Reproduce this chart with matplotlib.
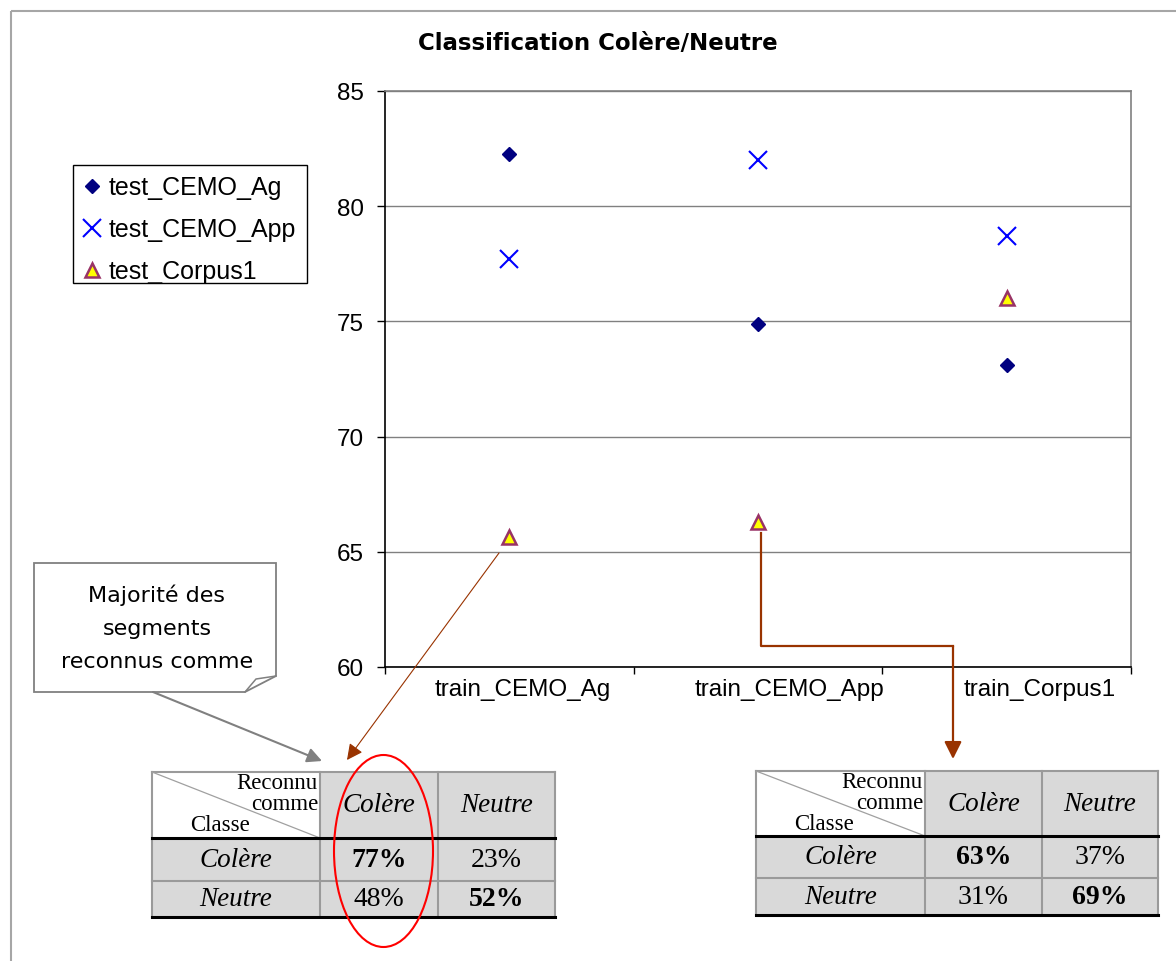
import numpy as np
import matplotlib
matplotlib.use("Agg")
import matplotlib.pyplot as plt
from matplotlib.patches import Rectangle, Polygon, Ellipse, FancyArrowPatch
from matplotlib.transforms import ScaledTranslation

# ---------------- data ----------------
title = "Classification Colère/Neutre"
categories = ["train_CEMO_Ag", "train_CEMO_App", "train_Corpus1"]
series_names = ["test_CEMO_Ag", "test_CEMO_App", "test_Corpus1"]
test_cemo_ag = [82.25, 74.9, 73.1]
test_cemo_app = [77.7, 82.0, 78.7]
test_corpus1 = [65.65, 66.3, 76.0]
y_ticks = [60, 65, 70, 75, 80, 85]
callout_text = "Majorité des\nsegments\nreconnus comme"
class_labels = ["Colère", "Neutre"]
conf_train_ag = [[77, 23], [48, 52]]
conf_train_corpus1 = [[63, 37], [31, 69]]

plt.rcParams['font.family'] = ['Liberation Sans', 'DejaVu Sans']

W, H = 1176, 962
fig = plt.figure(figsize=(W / 100, H / 100), dpi=100)
fig.patch.set_facecolor('white')


def fx(x):
    return x / W


def fy(y):
    return 1 - y / H


# ---------------- main chart ----------------
ax = fig.add_axes([fx(385), fy(668), (1131 - 385) / W, (668 - 92) / H])
x = np.arange(len(categories))
ax.plot(x, test_cemo_ag, ls='none', marker='D', ms=7.5, color='#000080',
        label=series_names[0], zorder=3, clip_on=False)
ax.plot(x, test_cemo_app, ls='none', marker='x', ms=12.5, mew=1.5, color='#0000FF',
        label=series_names[1], zorder=3, clip_on=False)
ax.plot(x, test_corpus1, ls='none', marker='^', ms=9.5, mfc='#FFFF00', mec='#993366',
        mew=1.8, label=series_names[2], zorder=3, clip_on=False)

ax.set_xlim(-0.5, len(categories) - 0.5)
ax.set_ylim(y_ticks[0], y_ticks[-1])
ax.set_yticks(y_ticks)
ax.set_xticks(np.arange(len(categories) + 1) - 0.5)
ax.set_xticklabels([])
ax.set_xticks(x, minor=True)
ax.set_xticklabels(categories, minor=True)
ax.tick_params(axis='x', which='major', length=5, width=1, direction='out', color='black')
ax.tick_params(axis='x', which='minor', length=0, pad=8, labelsize=17.5)
ax.tick_params(axis='y', length=6, width=1, pad=9, labelsize=17.5)
# Excel places the category labels slightly right of the category centres
label_shift_px = [13, 32, 33]
for lab, dx in zip(ax.get_xticklabels(minor=True), label_shift_px):
    lab.set_transform(lab.get_transform() + ScaledTranslation(dx / 100, 0, fig.dpi_scale_trans))
ax.yaxis.grid(True, color='#808080', lw=1)
ax.set_axisbelow(True)
ax.spines['left'].set_color('black')
ax.spines['bottom'].set_color('black')
ax.spines['top'].set_color('#808080')
ax.spines['right'].set_color('#808080')
for s in ax.spines.values():
    s.set_linewidth(1.2)

leg = ax.legend(loc='upper left', bbox_to_anchor=(fx(73), fy(166)),
                bbox_transform=fig.transFigure, borderaxespad=0, frameon=False,
                fontsize=18, handlelength=0.7, handletextpad=0.3,
                labelspacing=0.72, borderpad=0.42)

fig.text(fx(598), fy(44), title, ha='center', va='center', fontsize=16.5,
         fontweight='bold', family='DejaVu Sans')

# ---------------- overlay (annotations, tables) ----------------
ov = fig.add_axes([0, 0, 1, 1], zorder=5)
ov.set_xlim(0, W)
ov.set_ylim(H, 0)
ov.axis('off')
ov.patch.set_alpha(0)

# legend frame
ov.add_patch(Rectangle((73, 166), 307 - 73, 284 - 166, fill=False, ec='black', lw=1, zorder=1))

# outer frame
ov.plot([11, 11], [H + 5, 12], color='#A6A6A6', lw=1.5, solid_capstyle='butt')
ov.plot([11, W + 5], [12, 12], color='#A6A6A6', lw=1.5, solid_capstyle='butt')

# callout box
ov.add_patch(Polygon([(34, 564), (276, 564), (276, 677), (245, 693), (34, 693)],
                     closed=True, fc='white', ec='#808080', lw=1.3, zorder=2))
ov.plot([276, 256, 245], [677, 680, 693], color='#808080', lw=1.1, zorder=3)
ov.text(157, 628, callout_text, ha='center', va='center', fontsize=16,
        family='DejaVu Sans', linespacing=1.82, zorder=3)

# arrows
ov.add_patch(FancyArrowPatch((153, 693), (322, 762), arrowstyle='-|>', mutation_scale=22,
                             color='#808080', lw=1.5, shrinkA=0, shrinkB=0, zorder=4))
ov.add_patch(FancyArrowPatch((499, 554), (347, 761), arrowstyle='-|>', mutation_scale=24,
                             color='#993300', lw=0.8, shrinkA=0, shrinkB=0, zorder=4))
ov.plot([761, 761, 953], [534, 647, 647], color='#993300', lw=1.6, zorder=4)
ov.add_patch(FancyArrowPatch((953, 647), (953, 760), arrowstyle='-|>', mutation_scale=26,
                             color='#993300', lw=1.6, shrinkA=0, shrinkB=0, zorder=4))


def draw_table(cols, rows, values):
    for i in range(3):
        for j in range(3):
            fc = 'white' if (i == 0 and j == 0) else '#D9D9D9'
            ov.add_patch(Rectangle((cols[j], rows[i]), cols[j + 1] - cols[j],
                                   rows[i + 1] - rows[i], fc=fc, ec='none', zorder=1))
    grey = '#9A9A9A'
    for c in cols:
        ov.plot([c, c], [rows[0], rows[3]], color=grey, lw=1.5, zorder=2)
    for r in (rows[0], rows[2]):
        ov.plot([cols[0], cols[3]], [r, r], color=grey, lw=1.5, zorder=2)
    for r in (rows[1], rows[3]):
        ov.plot([cols[0], cols[3]], [r, r], color='black', lw=2.2, zorder=3)
    ov.plot([cols[0], cols[1]], [rows[0], rows[1]], color='#A0A0A0', lw=0.9, zorder=2)
    serif = 'Liberation Serif'
    ov.text(cols[1] - 2, rows[0] + 11, "Reconnu", ha='right', va='center',
            fontsize=16.5, family=serif, zorder=3)
    ov.text(cols[1] - 2, rows[0] + 32, "comme", ha='right', va='center',
            fontsize=16.5, family=serif, zorder=3)
    ov.text(cols[0] + 38, rows[0] + 53, "Classe", ha='left', va='center',
            fontsize=16.5, family=serif, zorder=3)
    for j, lab in enumerate(class_labels):
        ov.text((cols[j + 1] + cols[j + 2]) / 2, (rows[0] + rows[1]) / 2, lab,
                ha='center', va='center', fontsize=19.5, style='italic', family=serif, zorder=3)
        ov.text((cols[0] + cols[1]) / 2, (rows[j + 1] + rows[j + 2]) / 2, lab,
                ha='center', va='center', fontsize=19.5, style='italic', family=serif, zorder=3)
    for i in range(2):
        for j in range(2):
            ov.text((cols[j + 1] + cols[j + 2]) / 2, (rows[i + 1] + rows[i + 2]) / 2,
                    f"{values[i][j]}%", ha='center', va='center', fontsize=20,
                    fontweight='bold' if i == j else 'normal', family=serif, zorder=3)


draw_table([152, 320, 438, 555], [773, 839, 882, 918], conf_train_ag)
draw_table([756, 925, 1042, 1158], [772, 837, 879, 916], conf_train_corpus1)

ov.add_patch(Ellipse((383.5, 852), 99, 192, fill=False, ec='red', lw=1.5, zorder=10))

fig.savefig("out.png", dpi=100)
